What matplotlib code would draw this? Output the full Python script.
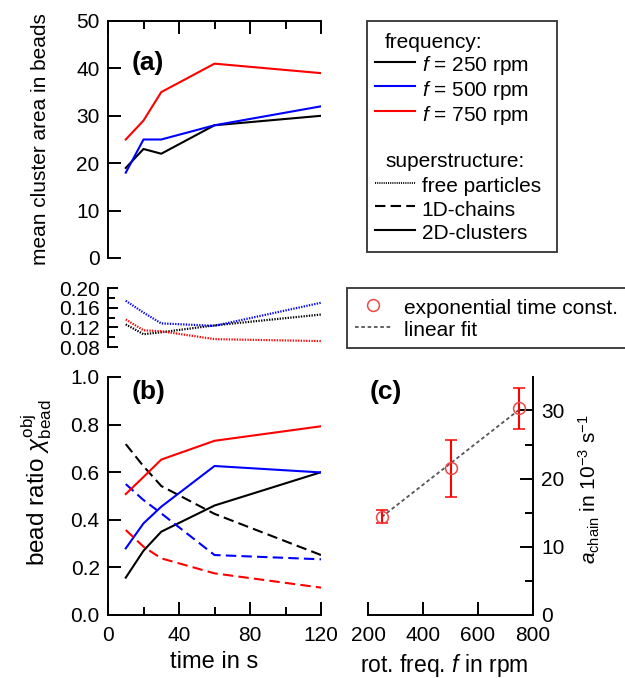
import numpy as np
import matplotlib
matplotlib.use("Agg")
import matplotlib.pyplot as plt
from matplotlib.lines import Line2D
from matplotlib.ticker import MultipleLocator
from matplotlib.transforms import IdentityTransform

plt.rcParams['font.family'] = ['Liberation Sans', 'DejaVu Sans']
plt.rcParams['mathtext.fontset'] = 'custom'
plt.rcParams['mathtext.rm'] = 'Liberation Sans'
plt.rcParams['mathtext.it'] = 'Liberation Sans:italic'
plt.rcParams['mathtext.bf'] = 'Liberation Sans:bold'
plt.rcParams['font.size'] = 15

# ---- data ----
time_s = [10, 20, 30, 60, 120]
freqs = [250, 500, 750]
colors = ['black', 'blue', 'red']

# (a) mean cluster area in beads
area = {
    250: [19, 23, 22, 28, 30],
    500: [18, 25, 25, 28, 32],
    750: [25, 29, 35, 41, 39],
}
# free particle bead ratio (small panel)
free = {
    250: [0.126, 0.106, 0.110, 0.124, 0.146],
    500: [0.174, 0.150, 0.128, 0.123, 0.170],
    750: [0.136, 0.114, 0.112, 0.096, 0.092],
}
# (b) 1D-chains (dashed) and 2D-clusters (solid)
chains = {
    250: [0.718, 0.625, 0.542, 0.425, 0.252],
    500: [0.550, 0.483, 0.427, 0.252, 0.234],
    750: [0.357, 0.287, 0.238, 0.175, 0.115],
}
clusters = {
    250: [0.157, 0.270, 0.350, 0.460, 0.600],
    500: [0.280, 0.385, 0.455, 0.626, 0.599],
    750: [0.508, 0.580, 0.653, 0.732, 0.793],
}
# (c) exponential time constant of chains
tau = [14.4, 21.5, 30.3]
tau_err = [0.95, 4.2, 3.0]

W, H = 625, 678


def rect(l, t, r, b):
    return [l / W, 1 - b / H, (r - l) / W, (b - t) / H]


def px(x, y):
    return (x / W, 1 - y / H)


fig = plt.figure(figsize=(W / 100, H / 100), dpi=100)

ax_a = fig.add_axes(rect(108, 21, 321, 258))
ax_m = fig.add_axes(rect(108, 288, 321, 347))
ax_b = fig.add_axes(rect(108, 377, 321, 615))
ax_c = fig.add_axes(rect(368, 377, 533, 615))

lw = 1.5
spine_w = 1.4
dash = (0, (5, 2.5))
dots = (0, (0.6, 0.6))
fit_style = (0, (2, 1.5))
circ_col = '#f04848'

for f, c in zip(freqs, colors):
    ax_a.plot(time_s, area[f], color=c, lw=lw)
    ax_m.plot(time_s, free[f], color=c, lw=1.6, ls=dots)
    ax_b.plot(time_s, chains[f], color=c, lw=lw, ls=dash)
    ax_b.plot(time_s, clusters[f], color=c, lw=lw)

# ---- (a) ----
ax_a.set_xlim(0, 120)
ax_a.set_ylim(0, 50)
ax_a.spines[['bottom', 'right']].set_visible(False)
ax_a.xaxis.set_ticks_position('top')
ax_a.xaxis.set_major_locator(MultipleLocator(40))
ax_a.xaxis.set_minor_locator(MultipleLocator(20))
ax_a.tick_params(axis='x', which='both', labeltop=False)
ax_a.yaxis.set_major_locator(MultipleLocator(10))
ax_a.set_ylabel('mean cluster area in beads', fontsize=15)
ax_a.yaxis.set_label_coords(-0.27, 0.5)
ax_a.text(0.11, 0.823, '(a)', transform=ax_a.transAxes, fontweight='bold',
          fontsize=19, va='center', ha='left')

# ---- small free particle panel ----
ax_m.set_xlim(0, 120)
ax_m.set_ylim(0.08, 0.20)
ax_m.spines[['bottom', 'right', 'top']].set_visible(False)
ax_m.set_xticks([])
ax_m.yaxis.set_major_locator(MultipleLocator(0.04))
ax_m.yaxis.set_minor_locator(MultipleLocator(0.02))
ax_m.yaxis.set_major_formatter(plt.FormatStrFormatter('%.2f'))

# ---- (b) ----
ax_b.set_xlim(0, 120)
ax_b.set_ylim(0, 1.0)
ax_b.spines[['top', 'right']].set_visible(False)
ax_b.xaxis.set_major_locator(MultipleLocator(40))
ax_b.xaxis.set_minor_locator(MultipleLocator(20))
ax_b.yaxis.set_major_locator(MultipleLocator(0.2))
ax_b.yaxis.set_major_formatter(plt.FormatStrFormatter('%.1f'))
ax_b.set_xlabel('time in s', fontsize=17)
ax_b.set_ylabel(r'bead ratio $\chi^{\mathrm{obj}}_{\mathrm{bead}}$',
                fontsize=17.5)
ax_b.yaxis.set_label_coords(-0.255, 0.555)
ax_b.text(0.11, 0.937, '(b)', transform=ax_b.transAxes, fontweight='bold',
          fontsize=19, va='center', ha='left')

# ---- (c) ----
ax_c.errorbar(freqs, tau, yerr=tau_err, fmt='o', ms=8.5, mfc='none',
              mec=circ_col, mew=1.1, ecolor='red', elinewidth=1.5,
              capsize=4.5, capthick=1.5, zorder=3)
slope, icpt = np.polyfit(freqs, tau, 1, w=1 / np.array(tau_err))
fit_x = np.array([freqs[0], freqs[-1]])
ax_c.plot(fit_x, slope * fit_x + icpt, color='#555555', lw=1.3,
          ls=fit_style, zorder=2)
ax_c.set_xlim(200, 800)
ax_c.set_ylim(0, 34.9)
ax_c.spines[['top', 'left']].set_visible(False)
ax_c.yaxis.set_ticks_position('right')
ax_c.yaxis.set_label_position('right')
ax_c.xaxis.set_major_locator(MultipleLocator(200))
ax_c.yaxis.set_major_locator(MultipleLocator(10))
ax_c.yaxis.set_minor_locator(MultipleLocator(5))
ax_c.set_xlabel(r'rot. freq. $f$ in rpm', fontsize=16.5)
ax_c.xaxis.set_label_coords(0.463, -0.155)
ax_c.set_ylabel(r'$a_{\mathrm{chain}}$ in 10$^{\mathrm{-3}}$ s$^{\mathrm{-1}}$',
                fontsize=15)
ax_c.yaxis.set_label_coords(1.265, 0.53)
ax_c.text(0.01, 0.937, '(c)', transform=ax_c.transAxes, fontweight='bold',
          fontsize=19, va='center', ha='left')

for ax in (ax_a, ax_m, ax_b, ax_c):
    for s in ax.spines.values():
        s.set_linewidth(spine_w)
    ax.tick_params(which='major', direction='in', length=9.5, width=spine_w,
                   pad=6)
    ax.tick_params(which='minor', direction='in', length=5.5, width=spine_w)
ax_m.tick_params(which='major', length=7)
ax_m.tick_params(which='minor', length=5)
ax_b.tick_params(axis='x', pad=8)
ax_c.tick_params(axis='x', pad=8)
ax_b.xaxis.labelpad = 4

# ---- legends ----
blank = Line2D([], [], color='none')
headers = {0: 'frequency:', 5: 'superstructure:'}
handles1 = [blank]
labels1 = ['']
for f, c in zip(freqs, colors):
    handles1.append(Line2D([], [], color=c, lw=lw))
    labels1.append(r'$f$ = %d rpm' % f)
handles1 += [blank, blank,
             Line2D([], [], color='black', lw=1.3, ls=dots),
             Line2D([], [], color='black', lw=lw, ls=dash),
             Line2D([], [], color='black', lw=lw)]
labels1 += ['', '', 'free particles', '1D-chains', '2D-clusters']
leg1 = fig.legend(handles1, labels1, loc='upper left',
                  bbox_to_anchor=(366.7 / W, 1 - 20.7 / H, 190.3 / W, 0),
                  mode='expand', borderaxespad=0,
                  frameon=True, fancybox=False, edgecolor='black',
                  fontsize=15, handlelength=1.92, handletextpad=0.32,
                  borderpad=0.4, handleheight=1.3, labelspacing=0.03)
leg1.get_frame().set_linewidth(1.3)
leg_texts = leg1.get_texts()

handles2 = [Line2D([], [], marker='o', ms=8.5, mfc='none', mec=circ_col,
                   mew=1.1, ls='none'),
            Line2D([], [], color='#555555', lw=1.3, ls=fit_style)]
labels2 = ['exponential time const.', 'linear fit']
leg2 = fig.legend(handles2, labels2, loc='upper left',
                  bbox_to_anchor=px(347, 288.3), borderaxespad=0,
                  frameon=True, fancybox=False, edgecolor='black',
                  fontsize=15, handlelength=1.82, handletextpad=0.58,
                  borderpad=0.36, handleheight=1.3, labelspacing=-0.04)
leg2.get_frame().set_linewidth(1.3)

# group headers go into the empty rows, a bit left of the entry labels
fig.canvas.draw()
bb1 = leg_texts[1].get_window_extent()
bb2 = leg_texts[2].get_window_extent()
pitch = bb1.y0 - bb2.y0
for i, name in headers.items():
    ref = leg_texts[i + 1].get_window_extent()
    fig.text(ref.x0 - 36.7, ref.y0 + pitch, name,
             transform=IdentityTransform(), fontsize=15,
             ha='left', va='bottom', zorder=10)

fig.savefig('out.png', dpi=100)
